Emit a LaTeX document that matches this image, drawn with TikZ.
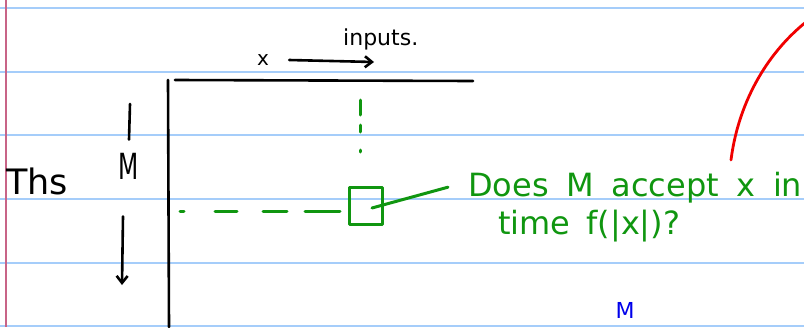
\documentclass[tikz,border=0pt]{standalone}
\usepackage{fontspec}
\setmainfont{DejaVu Sans}
\definecolor{inkgreen}{RGB}{16,150,16}
\definecolor{inkred}{RGB}{240,0,0}
\definecolor{inkblue}{RGB}{0,0,235}
\definecolor{ruleblue}{RGB}{165,205,250}
\definecolor{marginpink}{RGB}{200,100,135}
\usetikzlibrary{arrows.meta,positioning,calc}

\begin{document}
\begin{tikzpicture}[x=1pt, y=-1pt,
    ink/.style={line width=2.6pt, line cap=round, line join=round},
    greenink/.style={ink, inkgreen, line width=3pt},
    barb/.style={-{Straight Barb[length=7pt, width=11pt]}},
    hand/.style={inner sep=0pt, font=\fontsize{#1}{#1}\selectfont},
    hand/.default=30]
    \useasboundingbox (0,0) rectangle (804,327);
    \clip (0,0) rectangle (804,327);
    % ruled paper
    \foreach \y in {8,72,135,199,263,326}
        \draw[ruleblue, line width=1.8pt] (0,\y) -- (804,\y);
    \draw[marginpink, line width=2.2pt] (6,0) -- (6,327);

    % table of machines vs. inputs
    \node[hand=22, anchor=base west] (inputs) at (343,45) {inputs.};
    \node[hand=20] (xlabel) at (263,60) {x};
    \coordinate (inputdir) at (374,62);
    \draw[ink, barb] ([xshift=20pt]xlabel.east) -- (inputdir);
    \coordinate (corner) at (168,80);
    \coordinate (topright) at (473,81);
    \coordinate (bottomleft) at (169,327);
    \draw[ink] ([xshift=7pt]corner) -- (topright);
    \draw[ink] (corner) -- (bottomleft);

    \node[hand=35] (ths) at (37,181) {Ths};
    \node[hand=36] (mlabel) at (129,166) {\scalebox{0.65}[1]{M}};
    \coordinate (mtop) at (130,104);
    \coordinate (mdown) at (122,285);
    \draw[ink] (mtop) -- ([yshift=13pt]mlabel.north);
    \draw[ink, barb] ([xshift=-6pt, yshift=-37pt]mlabel.south) -- (mdown);

    % the cell
    \node[draw, greenink, line width=3.6pt, minimum width=33pt, minimum height=37pt] (cell) at (366,206) {};
    \coordinate (coltop) at (360,100);
    \coordinate (rowstart) at (180,211);
    \draw[greenink, dash pattern=on 15pt off 10pt on 7pt off 18pt on 2pt off 60pt] (coltop) -- (coltop |- cell.north);
    \draw[greenink, dash pattern=on 4pt off 31pt on 22pt off 26pt on 24pt off 18pt on 35pt off 20pt] (rowstart) -- (rowstart -| cell.west);

    \node[hand=32, inkgreen, anchor=base west] (question) at (468,196) {\spaceskip=0.55em\relax Does M accept x in};
    \node[hand=32, inkgreen, anchor=base west] (timebound) at (498,234) {\spaceskip=0.5em\relax time f(|x|)?};
    \draw[greenink] ($(cell.center)+(6,2)$) -- ([xshift=-20pt]question.west);

    % red pointer
    \coordinate (redfoot) at (731,160);
    \coordinate (redtop) at (806,22);
    \draw[ink, inkred, line width=2.8pt] (redfoot) .. controls (738,105) and (765,55) .. (redtop);

    \node[hand=22, inkblue, anchor=north] (bluem) at (625,302) {M};
\end{tikzpicture}
\end{document}
